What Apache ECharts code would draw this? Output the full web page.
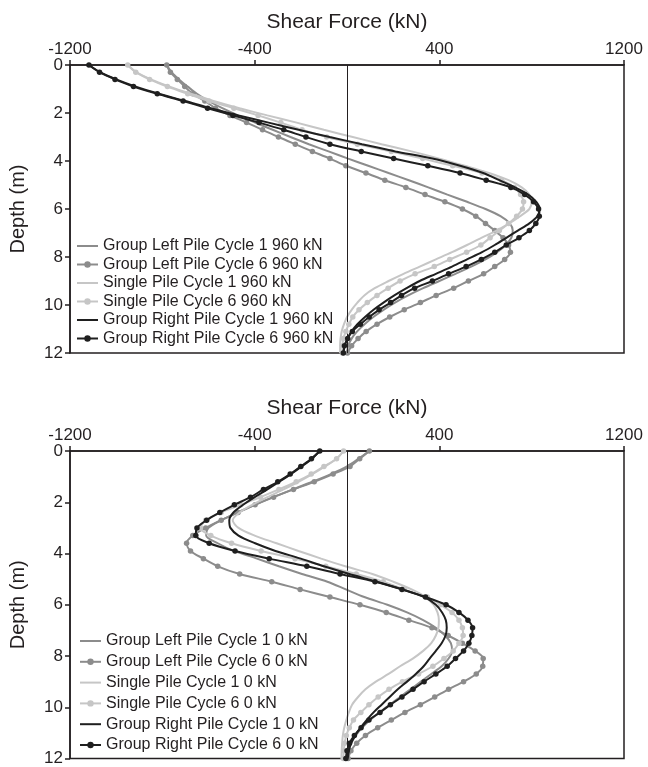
<!DOCTYPE html>
<html><head><meta charset="utf-8">
<script src="https://cdn.jsdelivr.net/npm/echarts@6/dist/echarts.min.js"></script>
<style>html,body{margin:0;padding:0;background:#fff}#c{width:648px;height:767px}</style>
</head><body><div id="c"></div><script>
// Depth (m) of each sampled point, shared by every curve
const depths = [0,0.3,0.6,0.9,1.2,1.5,1.8,2.1,2.4,2.7,3.0,3.3,3.6,3.9,4.2,4.5,4.8,5.1,5.4,5.7,6.0,6.3,6.6,6.9,7.2,7.5,7.8,8.1,8.4,8.7,9.0,9.3,9.6,9.9,10.2,10.5,10.8,11.1,11.4,11.7,12.0];
const xTicks = [-1200,-400,400,1200];

// Top panel: 960 kN (shear force, kN)
const topGL1 = [-781,-760,-728,-690,-650,-600,-540,-472,-398,-322,-245,-165,-80,5,92,180,268,352,435,520,600,665,705,718,712,688,650,600,538,470,400,330,265,208,158,114,76,44,20,5,0];
const topGL6 = [-781,-765,-735,-703,-668,-616,-570,-507,-435,-366,-297,-224,-150,-74,-5,82,164,255,338,424,500,558,600,640,676,700,708,683,640,592,526,462,386,318,248,185,130,83,48,20,2];
const topSP1 = [-950,-912,-850,-768,-676,-578,-465,-345,-218,-100,25,150,280,400,510,615,700,757,790,800,790,750,703,648,582,520,455,385,315,245,180,120,75,45,20,0,-13,-23,-28,-30,-30];
const topSP6 = [-950,-915,-855,-778,-690,-598,-490,-385,-287,-195,-88,45,192,328,458,585,670,725,752,765,760,735,700,660,620,580,518,445,378,295,230,178,130,88,52,25,8,-5,-16,-19,-20];
const topGR1 = [-1118,-1070,-1000,-915,-815,-700,-590,-470,-340,-210,-75,65,210,370,490,590,660,728,785,820,835,825,790,740,690,640,585,520,455,385,315,258,205,158,115,78,45,20,2,-10,-15];
const topGR6 = [-1118,-1072,-1005,-925,-822,-710,-604,-494,-381,-274,-178,-74,62,202,350,490,603,710,770,808,830,833,818,790,745,690,640,582,516,440,370,293,236,189,139,96,58,23,3,-11,-16];

// Bottom panel: 0 kN
const botGL1 = [97,50,0,-70,-150,-235,-320,-400,-475,-545,-600,-610,-560,-490,-390,-295,-195,-85,-5,75,175,260,330,385,425,450,455,440,410,365,320,275,230,185,140,100,65,38,18,6,2];
const botGL6 = [97,55,13,-60,-142,-232,-318,-398,-472,-545,-612,-668,-695,-678,-622,-560,-465,-326,-203,-74,56,170,268,368,438,500,555,590,588,560,505,440,380,318,251,192,133,80,42,17,5];
const botSP1 = [-15,-45,-95,-150,-210,-275,-345,-410,-465,-495,-470,-400,-305,-210,-112,-8,110,200,280,340,375,392,398,396,385,365,330,285,230,180,125,80,48,22,8,-3,-12,-18,-21,-23,-24];
const botSP6 = [-15,-45,-100,-155,-220,-295,-375,-460,-545,-612,-635,-590,-500,-372,-225,-92,40,157,248,348,405,455,485,500,503,485,460,420,372,310,240,182,135,95,60,28,10,-3,-10,-14,-16];
const botGR1 = [-118,-152,-196,-243,-293,-345,-400,-450,-492,-510,-505,-470,-398,-310,-200,-100,10,130,240,335,385,412,428,432,427,410,385,358,332,298,260,220,185,150,115,85,58,36,18,8,3];
const botGR6 = [-118,-154,-200,-246,-300,-362,-418,-488,-551,-608,-650,-655,-597,-485,-337,-174,-30,121,238,340,429,485,524,544,541,528,505,470,434,385,334,286,238,188,143,95,61,32,11,0,-5];

const topNames = ['Group Left Pile Cycle 1 960 kN','Group Left Pile Cycle 6 960 kN','Single Pile Cycle 1 960 kN','Single Pile Cycle 6 960 kN','Group Right Pile Cycle 1 960 kN','Group Right Pile Cycle 6 960 kN'];
const botNames = ['Group Left Pile Cycle 1 0 kN','Group Left Pile Cycle 6 0 kN','Single Pile Cycle 1 0 kN','Single Pile Cycle 6 0 kN','Group Right Pile Cycle 1 0 kN','Group Right Pile Cycle 6 0 kN'];

const FONT = '"Liberation Sans", Arial, sans-serif';
const INK = '#231f20';
const C_BLACK = '#1f1f1f', C_GRAY = '#8c8c8c', C_LIGHT = '#c6c6c6';
const styles = [
  {color: C_GRAY, marker: false},
  {color: C_GRAY, marker: true},
  {color: C_LIGHT, marker: false},
  {color: C_LIGHT, marker: true},
  {color: C_BLACK, marker: false},
  {color: C_BLACK, marker: true}
];

function pairs(vals){ return vals.map((v,i)=>[v, depths[i]]); }
function buildSeries(names, sets, g){
  return names.map((n,i)=>{
    const s = styles[i];
    const o = {
      name: n, type: 'line', xAxisIndex: g, yAxisIndex: g,
      data: pairs(sets[i]), smooth: 0.3,
      symbol: 'circle', showSymbol: s.marker, symbolSize: 5.5,
      lineStyle: {color: s.color, width: 2}, itemStyle: {color: s.color},
      emphasis: {disabled: true}, z: 2 + i
    };
    if (i === 0) {
      o.markLine = {silent: true, symbol: 'none', label: {show: false}, animation: false,
        lineStyle: {color: INK, width: 1, type: 'solid'}, data: [{xAxis: 0}]};
    }
    return o;
  });
}
function xAxis(g){
  return {gridIndex: g, type: 'value', position: 'top', min: xTicks[0], max: xTicks[xTicks.length-1], interval: 800,
    name: 'Shear Force (kN)', nameLocation: 'middle', nameGap: 32,
    nameTextStyle: {fontSize: 21, color: INK, fontFamily: FONT},
    axisLine: {show: true, onZero: false, lineStyle: {color: INK, width: 1.5}},
    axisTick: {show: true, length: 5, lineStyle: {color: INK, width: 1.5}},
    axisLabel: {fontSize: 17, color: INK, fontFamily: FONT, margin: 7, formatter: v => String(v)},
    splitLine: {show: false}};
}
function yAxis(g){
  return {gridIndex: g, type: 'value', inverse: true, min: 0, max: 12, interval: 2,
    name: 'Depth (m)', nameLocation: 'middle', nameGap: 42,
    nameTextStyle: {fontSize: 20, color: INK, fontFamily: FONT},
    axisLine: {show: true, onZero: false, lineStyle: {color: INK, width: 1.5}},
    axisTick: {show: true, length: 5, lineStyle: {color: INK, width: 1.5}},
    axisLabel: {fontSize: 17, color: INK, fontFamily: FONT, margin: 7, formatter: v => String(v)},
    splitLine: {show: false}};
}
function legend(names, left, top, gap, lh){
  return {orient: 'vertical', left: left, top: top, itemWidth: 21, itemHeight: 8, itemGap: gap, padding: 0,
    selectedMode: false,
    data: names.map((n,i)=> styles[i].marker ? {name: n} : {name: n, itemStyle: {opacity: 0}}),
    textStyle: {fontSize: 16, lineHeight: lh, color: INK, fontFamily: FONT}};
}

const chart = echarts.init(document.getElementById('c'), null, {renderer: 'canvas'});
chart.setOption({
  animation: false,
  backgroundColor: '#fff',
  grid: [
    {left: 70, top: 65, width: 554, height: 288, show: true, borderColor: INK, borderWidth: 1.5},
    {left: 70, top: 451, width: 554, height: 312, show: true, borderColor: INK, borderWidth: 1.5}
  ],
  xAxis: [xAxis(0), xAxis(1)],
  yAxis: [yAxis(0), yAxis(1)],
  legend: [legend(topNames, 76, 238, 2.5, 16), legend(botNames, 79, 632, 2.8, 18)],
  series: buildSeries(topNames, [topGL1, topGL6, topSP1, topSP6, topGR1, topGR6], 0)
    .concat(buildSeries(botNames, [botGL1, botGL6, botSP1, botSP6, botGR1, botGR6], 1))
});
</script></body></html>
